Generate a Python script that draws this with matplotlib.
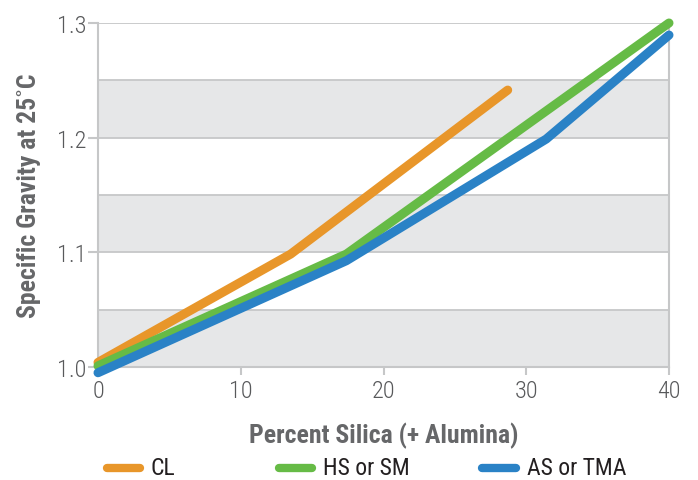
import matplotlib
matplotlib.use("Agg")
import matplotlib.pyplot as plt
from matplotlib.lines import Line2D

plt.rcParams['font.family'] = ['Roboto Condensed', 'DejaVu Sans']

cl_x = [0, 13.5, 28.7]
cl_y = [1.004, 1.0985, 1.2415]
hs_x = [0, 17.4, 40]
hs_y = [1.001, 1.0985, 1.300]
as_x = [0, 17.4, 31.4, 40]
as_y = [0.995, 1.0927, 1.1988, 1.2895]

series_names = ["CL", "HS or SM", "AS or TMA"]
colors = ["#E8962A", "#66BB46", "#2A82C6"]
xticks = [0, 10, 20, 30, 40]
yticks = [1.0, 1.1, 1.2, 1.3]

W, H = 698, 481
fig = plt.figure(figsize=(W/100, H/100), dpi=100)
ax = fig.add_axes([98/W, 1-368/H, (669-98)/W, (368-24)/H])

ax.set_xlim(0, 40)
ax.set_ylim(1.0, 1.3)

grid_c = "#C6C7C8"
band = "#E6E7E8"
for lo in [1.0, 1.1, 1.2]:
    ax.axhspan(lo, lo + 0.05, color=band, zorder=0, lw=0)
for y in [1.05, 1.1, 1.15, 1.2, 1.25, 1.3]:
    ax.axhline(y, color=grid_c, lw=1.3, zorder=1)

for (xs, ys), c, n in zip([(cl_x, cl_y), (hs_x, hs_y), (as_x, as_y)], colors, series_names):
    ax.plot(xs, ys, color=c, lw=6.5, solid_capstyle='round', solid_joinstyle='round',
            clip_on=False, zorder=3, label=n)

ax.spines['top'].set_visible(False)
for s in ['left', 'right', 'bottom']:
    ax.spines[s].set_color(grid_c)
    ax.spines[s].set_linewidth(1.5)
ax.spines['left'].set_bounds(0.9925, 1.3)

ax.set_xticks(xticks)
ax.set_yticks(yticks)
ax.set_yticklabels([f"{v:.1f}" for v in yticks])
for lab in ax.get_xticklabels() + ax.get_yticklabels():
    lab.set_fontweight(300)
ax.tick_params(axis='both', colors=grid_c, labelcolor="#58595B", labelsize=17.5, width=1.5)
ax.tick_params(axis='x', length=6, pad=3)
ax.tick_params(axis='y', length=7, pad=1.5)

ax.set_xlabel("Percent Silica (+ Alumina)", fontsize=18.5, fontweight='bold',
              color="#666769", labelpad=14)
ax.set_ylabel("Specific Gravity at 25˚C", fontsize=18.5, fontweight='bold',
              color="#666769", labelpad=11)

# legend entries
leg_y = 1 - 469/H
handle_spans = [(107, 140), (279, 312), (482, 516)]
for (x0, x1), c, n in zip(handle_spans, colors, series_names):
    fig.add_artist(Line2D([x0/W, x1/W], [leg_y, leg_y], color=c, lw=6,
                          solid_capstyle='round', transform=fig.transFigure))
    fig.text((x1 + 11)/W, leg_y, n, fontsize=17, color="#231F20",
             va='center', ha='left')

fig.savefig("out.png", dpi=100)
